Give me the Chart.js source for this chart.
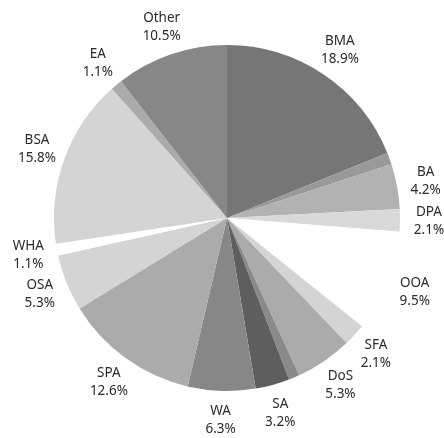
<!DOCTYPE html>
<html>
<head>
<meta charset="utf-8">
<script src="https://cdn.jsdelivr.net/npm/chart.js@4"></script>
<style>
  html, body { margin: 0; padding: 0; background: #ffffff; }
  #wrap { width: 444px; height: 438px; position: relative; }
</style>
</head>
<body>
<div id="wrap"><canvas id="c"></canvas></div>
<script>
// Categories in clockwise order from 12 o'clock (two thin slices carry no label)
const categories = ['BMA', '', 'BA', 'DPA', 'OOA', 'SFA', 'DoS', '', 'SA', 'WA', 'SPA', 'OSA', 'WHA', 'BSA', 'EA', 'Other'];
// Share of each category, percent
const shares = [18.9, 1.1, 4.2, 2.1, 9.5, 2.1, 5.3, 1.0, 3.2, 6.3, 12.6, 5.3, 1.1, 15.8, 1.1, 10.5];
const sliceColors = ['#767676', '#999999', '#b2b2b2', '#d9d9d9', '#ffffff', '#d4d4d4', '#ababab', '#8a8a8a',
                     '#5e5e5e', '#878787', '#ababab', '#d4d4d4', '#ffffff', '#d4d4d4', '#ababab', '#878787'];

const outsideLabels = {
  id: 'outsideLabels',
  afterDatasetsDraw(chart) {
    const ctx = chart.ctx;
    const meta = chart.getDatasetMeta(0);
    ctx.save();
    ctx.font = '13.5px "Noto Sans", "Liberation Sans", sans-serif';
    ctx.fillStyle = '#2a2a2a';
    ctx.textAlign = 'center';
    ctx.textBaseline = 'middle';
    meta.data.forEach((arc, i) => {
      const name = chart.data.labels[i];
      if (!name) return;
      const p = arc.getProps(['x', 'y', 'startAngle', 'endAngle', 'outerRadius'], true);
      const mid = (p.startAngle + p.endAngle) / 2;
      const r = p.outerRadius + 29;
      const cx = p.x + Math.cos(mid) * r;
      const cy = p.y + Math.sin(mid) * r;
      const v = chart.data.datasets[0].data[i];
      ctx.fillText(name, cx, cy - 9);
      ctx.fillText(v.toFixed(1) + '%', cx, cy + 9);
    });
    ctx.restore();
  }
};

new Chart(document.getElementById('c'), {
  type: 'pie',
  data: {
    labels: categories,
    datasets: [{
      data: shares,
      backgroundColor: sliceColors,
      borderWidth: 0
    }]
  },
  options: {
    responsive: true,
    maintainAspectRatio: false,
    animation: false,
    layout: { padding: { left: 54, right: 44, top: 45, bottom: 47 } },
    plugins: {
      legend: { display: false },
      tooltip: { enabled: false }
    }
  },
  plugins: [outsideLabels]
});
</script>
</body>
</html>
